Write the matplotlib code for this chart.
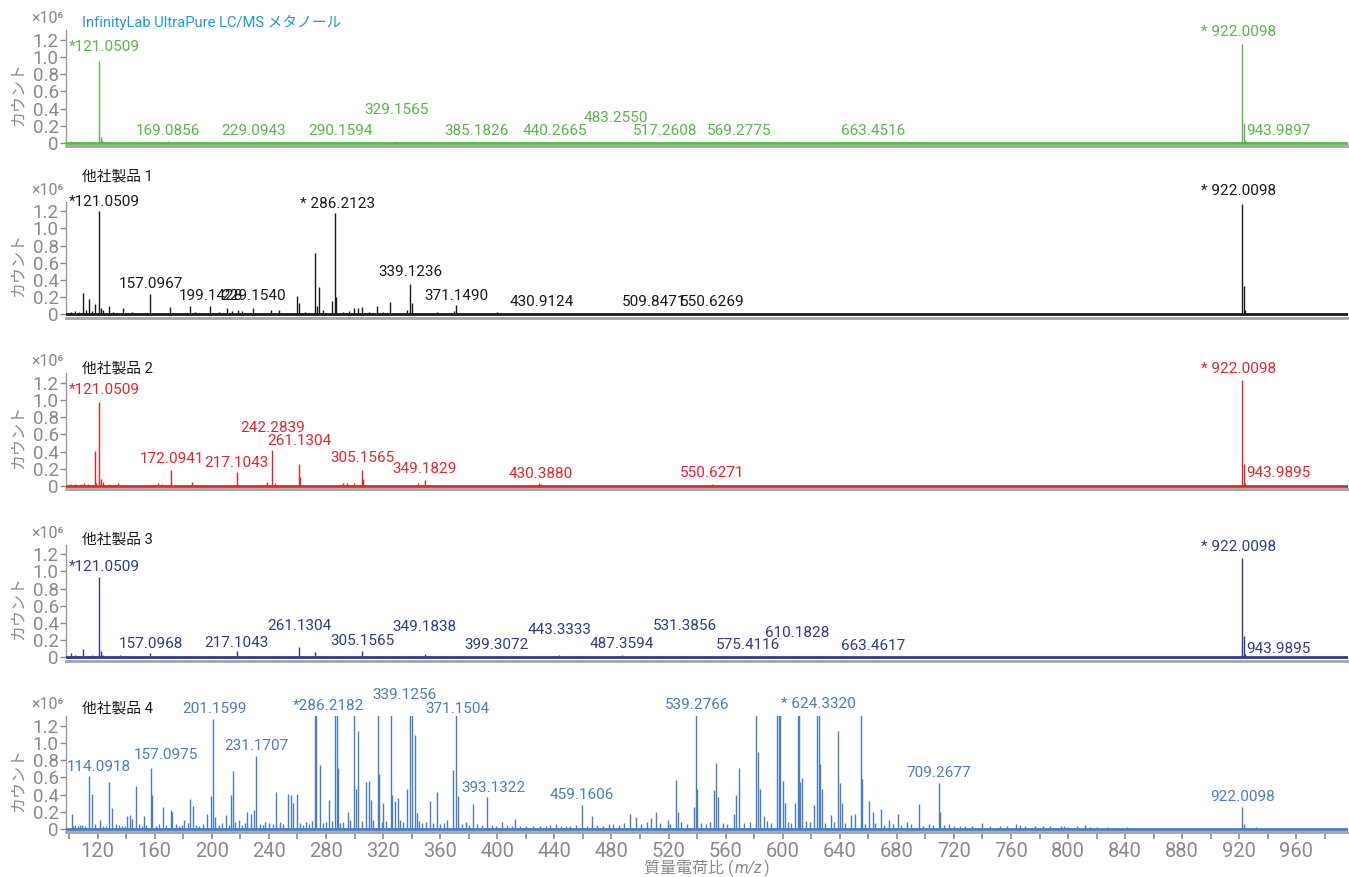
import numpy as np
import matplotlib.pyplot as plt
from matplotlib.offsetbox import TextArea, HPacker, AnchoredOffsetbox

plt.rcParams['font.family'] = ['Roboto', 'Noto Sans CJK JP', 'DejaVu Sans']

# --- spectra: (m/z, counts in 1e6) ---
methanol_peaks = [(101.5, 0.02), (105, 0.015), (112, 0.01), (116, 0.015), (121.05, 0.95), (122.05, 0.07),
                  (123.0, 0.04), (130, 0.01), (145, 0.01), (169.09, 0.02), (190, 0.01), (229.09, 0.015),
                  (260, 0.01), (290.16, 0.015), (300, 0.01), (312, 0.01), (329.16, 0.02), (385.18, 0.012),
                  (410, 0.008), (440.27, 0.01), (483.26, 0.015), (517.26, 0.01), (569.28, 0.01),
                  (663.45, 0.01), (922.01, 1.15), (923.01, 0.23), (924.0, 0.04)]

other1_peaks = [(101, 0.03), (104, 0.04), (107, 0.03), (109.8, 0.25), (112, 0.05), (114.2, 0.18), (116, 0.04),
                (118.2, 0.12), (121.05, 1.2), (122.3, 0.08), (124, 0.05), (128.2, 0.1), (131, 0.03), (138, 0.07),
                (144, 0.03), (150, 0.02), (156.7, 0.24), (163, 0.02), (170.8, 0.09), (178, 0.02), (184.9, 0.1),
                (188, 0.03), (193, 0.02), (199, 0.1), (205, 0.03), (210.5, 0.07), (214, 0.04), (218.3, 0.05),
                (221, 0.04), (228.6, 0.08), (235, 0.02), (241.8, 0.05), (247, 0.05), (253, 0.02), (259.9, 0.22),
                (260.9, 0.13), (265, 0.03), (272.1, 0.71), (273.4, 0.1), (275.3, 0.32), (278, 0.05), (284, 0.16),
                (286.21, 1.18), (287.2, 0.2), (292, 0.03), (296, 0.04), (299.7, 0.07), (302.2, 0.08),
                (305.3, 0.09), (310, 0.03), (316, 0.1), (320, 0.03), (324.7, 0.15), (330, 0.02), (336.6, 0.05),
                (339.12, 0.36), (340.3, 0.13), (346, 0.02), (352, 0.02), (357.5, 0.03), (366, 0.02), (370, 0.04),
                (371.15, 0.11), (380, 0.02), (399.7, 0.03), (430, 0.02), (460, 0.01), (509.85, 0.02),
                (550.6, 0.02), (922.01, 1.29), (923.01, 0.33), (924, 0.05)]

other2_peaks = [(101, 0.02), (104, 0.02), (108, 0.02), (110.4, 0.03), (113, 0.02), (117.9, 0.41), (119, 0.03),
                (121.05, 0.98), (122.3, 0.08), (123.5, 0.05), (128, 0.02), (133.9, 0.03), (140, 0.01),
                (150, 0.01), (162, 0.03), (165, 0.02), (171.7, 0.19), (186.1, 0.05), (200, 0.01), (217.4, 0.16),
                (230, 0.01), (238.7, 0.05), (242.4, 0.42), (244, 0.03), (261.2, 0.25), (262.1, 0.1), (280, 0.01),
                (291.8, 0.03), (295, 0.03), (299.7, 0.03), (305, 0.19), (306, 0.08), (330, 0.01), (344.4, 0.03),
                (349.1, 0.07), (380, 0.01), (429.5, 0.03), (431, 0.02), (550.6, 0.02), (922.01, 1.23),
                (923.01, 0.26), (924, 0.04)]

other3_peaks = [(101, 0.05), (104, 0.03), (106, 0.02), (109.8, 0.1), (113, 0.02), (116, 0.03), (121.05, 0.93),
                (122.3, 0.07), (124, 0.03), (130, 0.02), (135.4, 0.03), (143, 0.02), (150, 0.02), (156.7, 0.05),
                (165, 0.02), (172, 0.02), (185, 0.02), (199, 0.02), (210, 0.02), (217.4, 0.07), (230, 0.02),
                (245, 0.02), (255, 0.02), (261.2, 0.12), (272.1, 0.06), (280, 0.02), (290, 0.02), (305, 0.08),
                (318, 0.02), (330, 0.02), (340, 0.02), (349.1, 0.04), (360, 0.02), (375, 0.02), (399.3, 0.02),
                (415, 0.02), (443.5, 0.03), (460, 0.02), (487.3, 0.03), (500, 0.02), (515, 0.02), (531, 0.02),
                (545, 0.02), (560, 0.02), (575, 0.02), (590, 0.015), (610, 0.02), (625, 0.015), (640, 0.015),
                (663, 0.015), (700, 0.01), (922.01, 1.16), (923.01, 0.25), (924, 0.04)]

other4_peaks = [(101.8, 0.18), (104.3, 0.05), (107.4, 0.05), (114.09, 0.62), (116.2, 0.41), (121.5, 0.1),
                (128.1, 0.55), (130.3, 0.24), (133.0, 0.06), (140.3, 0.15), (142.5, 0.16), (144.4, 0.12),
                (146.9, 0.5), (152.2, 0.15), (157.1, 0.71), (158.1, 0.4), (166, 0.26), (171.6, 0.22),
                (172.2, 0.2), (180.3, 0.1), (185, 0.35), (186.6, 0.27), (196.6, 0.18), (199.1, 0.38),
                (201.16, 1.28), (202, 0.14), (210, 0.16), (213.2, 0.4), (214.8, 0.67), (218.8, 0.1),
                (224.8, 0.2), (227.3, 0.18), (229.2, 0.22), (231.17, 0.85), (237.3, 0.08), (245.1, 0.43),
                (253.3, 0.41), (255.4, 0.4), (257, 0.3), (259.8, 0.41), (272.3, 1.8), (273, 1.6), (275.5, 0.74),
                (282.4, 0.34), (286.22, 2.2), (287.4, 1.6), (288.3, 0.71), (295.2, 0.2), (299.9, 1.8),
                (300.9, 0.46), (302.4, 1.14), (308.1, 0.55), (310, 0.56), (311.8, 0.34), (316.2, 1.7),
                (317.1, 0.64), (320, 0.3), (325.3, 1.7), (326.2, 0.39), (328.1, 0.32), (330.3, 0.36),
                (336.8, 0.47), (339.13, 2.0), (340.3, 1.6), (342.1, 1.09), (343.7, 0.19), (353.1, 0.32),
                (357.5, 0.43), (365, 0.1), (368.7, 0.69), (371.15, 1.9), (372.2, 0.38), (382.8, 0.29),
                (393.13, 0.37), (403.1, 0.08), (412.5, 0.12), (441.3, 0.06), (459.16, 0.28), (466.6, 0.15),
                (481.3, 0.06), (493.2, 0.17), (497, 0.14), (508, 0.13), (510.9, 0.2), (519.6, 0.1),
                (525.2, 0.57), (526.8, 0.2), (537.7, 0.25), (539.28, 1.9), (540.2, 0.46), (551.8, 0.45),
                (553.3, 0.77), (554.9, 0.37), (565.8, 0.18), (567.4, 0.39), (569.6, 0.71), (581.5, 1.8),
                (582.7, 0.9), (584.3, 0.46), (586.8, 0.15), (595.8, 1.7), (597.1, 1.9), (598.3, 1.6),
                (599.9, 0.56), (601.5, 0.3), (608.7, 0.3), (610.5, 1.8), (611.5, 1.6), (612.4, 0.55),
                (613.7, 0.59), (621.8, 0.28), (624.33, 2.1), (625.5, 1.7), (626.5, 0.75), (627.4, 0.46),
                (633.7, 0.16), (638.7, 1.14), (640.3, 0.53), (641.5, 0.3), (647.7, 0.16), (650.8, 0.17),
                (654.9, 1.8), (655.8, 0.58), (660.8, 0.32), (663.3, 0.2), (668.6, 0.23), (674.3, 0.1),
                (680.5, 0.17), (686.8, 0.08), (695.8, 0.29), (702.7, 0.06), (709.27, 0.53), (710.5, 0.2),
                (716.5, 0.06), (724.3, 0.04), (739.9, 0.07), (752.4, 0.04), (763.7, 0.06), (766.5, 0.05),
                (782.1, 0.04), (797.1, 0.03), (811.8, 0.05), (827.4, 0.02), (841.5, 0.02), (858.7, 0.015),
                (884.3, 0.015), (922.01, 0.26), (923.6, 0.06), (932, 0.02), (960.2, 0.015)]

# low level background peaks of product 4
other4_grass = [(103, 0.04), (106, 0.03), (109, 0.05), (111, 0.03), (118, 0.06), (124, 0.04), (126, 0.03),
                (135, 0.05), (137, 0.03), (139, 0.04), (149, 0.06), (151, 0.04), (154, 0.05), (161, 0.04),
                (163, 0.06), (168, 0.05), (175, 0.06), (177, 0.04), (179, 0.05), (183, 0.07), (189, 0.05),
                (191, 0.04), (194, 0.06), (205, 0.05), (207, 0.07), (212, 0.05), (216, 0.08), (221, 0.05),
                (223, 0.07), (234, 0.06), (236, 0.05), (240, 0.07), (243, 0.06), (248, 0.08), (250, 0.06),
                (262, 0.07), (264, 0.05), (266, 0.08), (268, 0.06), (270, 0.09), (278, 0.07), (280, 0.08),
                (284, 0.09), (290, 0.07), (292, 0.08), (297, 0.1), (305, 0.09), (313, 0.1), (319, 0.08),
                (322, 0.09), (332, 0.1), (334, 0.08), (345, 0.09), (347, 0.07), (350, 0.08), (355, 0.07),
                (360, 0.06), (363, 0.07), (375, 0.06), (378, 0.08), (380, 0.05), (386, 0.06), (389, 0.05),
                (396, 0.05), (399, 0.04), (407, 0.05), (410, 0.04), (416, 0.04), (420, 0.03), (425, 0.04),
                (430, 0.03), (434, 0.04), (437, 0.05), (445, 0.04), (448, 0.03), (451, 0.04), (455, 0.05),
                (463, 0.04), (470, 0.05), (474, 0.04), (478, 0.06), (485, 0.05), (489, 0.07), (501, 0.06),
                (505, 0.08), (514, 0.07), (521, 0.06), (529, 0.08), (533, 0.06), (543, 0.07), (546, 0.06),
                (549, 0.08), (558, 0.07), (561, 0.06), (573, 0.07), (577, 0.08), (589, 0.09), (592, 0.07),
                (604, 0.08), (606, 0.07), (616, 0.09), (619, 0.08), (630, 0.07), (636, 0.08), (644, 0.07),
                (658, 0.06), (665, 0.07), (671, 0.05), (677, 0.06), (683, 0.05), (690, 0.06), (698, 0.04),
                (705, 0.05), (713, 0.05), (720, 0.04), (728, 0.03), (733, 0.04), (745, 0.03), (757, 0.03),
                (770, 0.04), (777, 0.03), (787, 0.03), (795, 0.03), (800, 0.02), (806, 0.03), (815, 0.02),
                (820, 0.02)]

titles = ['InfinityLab UltraPure LC/MS メタノール', '他社製品 1', '他社製品 2', '他社製品 3', '他社製品 4']
spectra = [methanol_peaks, other1_peaks, other2_peaks, other3_peaks, other4_peaks + other4_grass]

# peak annotations: (text, m/z position, height, alignment)
labels = [
    [('*121.0509', 125, 1.12, 'center'), ('169.0856', 169.1, 0.14, 'center'), ('229.0943', 229.1, 0.14, 'center'),
     ('290.1594', 290.2, 0.14, 'center'), ('329.1565', 329.2, 0.38, 'center'), ('385.1826', 385.2, 0.14, 'center'),
     ('440.2665', 440.3, 0.14, 'center'), ('483.2550', 483.3, 0.29, 'center'), ('517.2608', 517.3, 0.14, 'center'),
     ('569.2775', 569.3, 0.14, 'center'), ('663.4516', 663.5, 0.14, 'center'), ('* 922.0098', 919.5, 1.29, 'center'),
     ('943.9897', 924.5, 0.14, 'left')],
    [('*121.0509', 125, 1.31, 'center'), ('* 286.2123', 288, 1.29, 'center'), ('157.0967', 157.1, 0.36, 'center'),
     ('199.1428', 199.1, 0.21, 'center'), ('229.1540', 229.2, 0.21, 'center'), ('339.1236', 339.1, 0.49, 'center'),
     ('371.1490', 371.1, 0.21, 'center'), ('430.9124', 430.9, 0.14, 'center'), ('509.8471', 509.8, 0.14, 'center'),
     ('550.6269', 550.6, 0.14, 'center'), ('* 922.0098', 919.5, 1.44, 'center')],
    [('*121.0509', 125, 1.12, 'center'), ('172.0941', 172.1, 0.31, 'center'), ('217.1043', 217.1, 0.27, 'center'),
     ('242.2839', 242.3, 0.67, 'center'), ('261.1304', 261.1, 0.52, 'center'), ('305.1565', 305.2, 0.32, 'center'),
     ('349.1829', 349.2, 0.2, 'center'), ('430.3880', 430.4, 0.14, 'center'), ('550.6271', 550.6, 0.15, 'center'),
     ('* 922.0098', 919.5, 1.36, 'center'), ('943.9895', 924.5, 0.15, 'left')],
    [('*121.0509', 125, 1.05, 'center'), ('157.0968', 157.1, 0.155, 'center'), ('217.1043', 217.1, 0.17, 'center'),
     ('261.1304', 261.1, 0.37, 'center'), ('305.1565', 305.2, 0.19, 'center'), ('349.1838', 349.2, 0.35, 'center'),
     ('399.3072', 399.3, 0.14, 'center'), ('443.3333', 443.3, 0.32, 'center'), ('487.3594', 487.4, 0.16, 'center'),
     ('531.3856', 531.4, 0.37, 'center'), ('575.4116', 575.4, 0.15, 'center'), ('610.1828', 610.2, 0.28, 'center'),
     ('663.4617', 663.5, 0.13, 'center'), ('* 922.0098', 919.5, 1.29, 'center'), ('943.9895', 924.5, 0.1, 'left')],
    [('114.0918', 121, 0.72, 'center'), ('157.0975', 167.5, 0.86, 'center'), ('201.1599', 202, 1.39, 'center'),
     ('231.1707', 231.1, 0.97, 'center'), ('*286.2182', 281.8, 1.43, 'center'), ('339.1256', 335, 1.56, 'center'),
     ('371.1504', 371.8, 1.40, 'center'), ('393.1322', 397.5, 0.48, 'center'), ('459.1606', 459.5, 0.40, 'center'),
     ('539.2766', 539.9, 1.44, 'center'), ('* 624.3320', 625.2, 1.45, 'center'), ('709.2677', 709.3, 0.65, 'center'),
     ('922.0098', 922, 0.37, 'center')],
]

colors = ['#5ab54a', '#1a1a1a', '#e3262b', '#2e3b8e', '#4a7dc1']
title_colors = ['#1b9bd7', '#1a1a1a', '#1a1a1a', '#1a1a1a', '#1a1a1a']
title_y = [1.07, 1.22, 1.04, 1.05, 1.07]

grey = '#8a8a8a'
W, H = 1349, 877
fig = plt.figure(figsize=(W / 100, H / 100), dpi=100)

xlim = (97.6, 996)
ylim = (-0.035, 1.31)
ax_h = 115.7
spine_px = [146, 317.5, 489, 660.5, 832]
left_px = 65.7
width_px = (xlim[1] - xlim[0]) * 1.4271

for i in range(5):
    ax = fig.add_axes([left_px / W, (H - spine_px[i]) / H, width_px / W, ax_h / H])
    pk = np.array(spectra[i])
    ax.vlines(pk[:, 0], 0, pk[:, 1], color=colors[i], lw=1.0)
    ax.axhline(0, color=colors[i], lw=2.0, zorder=3)
    ax.set_xlim(*xlim)
    ax.set_ylim(*ylim)

    for s in ['top', 'right']:
        ax.spines[s].set_visible(False)
    ax.spines['left'].set_color('#9a9a9a')
    ax.spines['left'].set_linewidth(1.0)
    ax.spines['left'].set_bounds(0, ylim[1])
    ax.spines['bottom'].set_color('#a5a5a5')
    ax.spines['bottom'].set_linewidth(2.0)

    ax.set_yticks([0, 0.2, 0.4, 0.6, 0.8, 1.0, 1.2])
    ax.set_yticklabels(['0', '0.2', '0.4', '0.6', '0.8', '1.0', '1.2'])
    ax.tick_params(axis='y', colors=grey, labelsize=13.5, length=4, width=1, pad=1)

    if i < 4:
        ax.set_xticks([])
    else:
        ticks = np.arange(100, 1000, 20)
        ax.set_xticks(ticks)
        ax.set_xticklabels([str(t) if (t - 120) % 40 == 0 else '' for t in ticks])
        ax.tick_params(axis='x', colors=grey, labelsize=14.5, length=5, width=1.2, pad=2)

    ax.text(0.0127, title_y[i], titles[i], transform=ax.transAxes, color=title_colors[i],
            fontsize=10.6, ha='left', va='center')
    ax.text(-0.002, 1.10, '×10⁶', transform=ax.transAxes, color=grey, fontsize=11.5,
            ha='right', va='center')
    ax.text(-0.037, 0.45, 'カウント', transform=ax.transAxes, color=grey, fontsize=11.5,
            rotation=90, ha='center', va='center')

    for txt, x, y, ha in labels[i]:
        ax.text(x, y, txt, color=colors[i], fontsize=11, ha=ha, va='center', clip_on=False)

# x axis title with italic m/z
parts = [TextArea('質量電荷比 (', textprops=dict(color=grey, fontsize=11.5)),
         TextArea('m/z', textprops=dict(color=grey, fontsize=11.5, style='italic')),
         TextArea(')', textprops=dict(color=grey, fontsize=11.5))]
xlab = HPacker(children=parts, align='baseline', pad=0, sep=1)
fig.add_artist(AnchoredOffsetbox(loc='center', child=xlab, frameon=False, borderpad=0, pad=0,
                                 bbox_to_anchor=(707 / W, 1 - 868 / H), bbox_transform=fig.transFigure))

fig.savefig('out.png', dpi=100)
